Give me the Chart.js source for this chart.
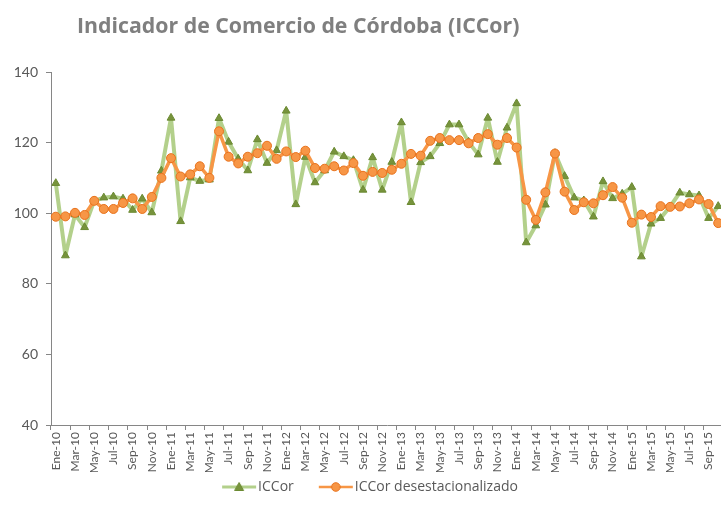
<!DOCTYPE html>
<html>
<head>
<meta charset="utf-8">
<script src="https://cdn.jsdelivr.net/npm/chart.js@4"></script>
<style>
  html, body { margin: 0; padding: 0; background: #ffffff; overflow: hidden; }
  #wrap { position: relative; width: 721px; height: 520px; overflow: hidden; }
  #box { position: absolute; left: 0; top: 0; width: 742px; height: 520px; }
  #title { position: absolute; left: 77px; top: 10px; font-family: "Open Sans", Lato, sans-serif; font-weight: bold; font-size: 21.3px; line-height: 1.362; color: #7f7f7f; white-space: nowrap; }
</style>
</head>
<body>
<div id="wrap">
  <div id="box"><canvas id="c" width="742" height="520"></canvas></div>
  <div id="title">Indicador de Comercio de Córdoba (ICCor)</div>
</div>
<script>
const categories = [
  "Ene-10","Feb-10","Mar-10","Abr-10","May-10","Jun-10","Jul-10","Ago-10","Sep-10","Oct-10","Nov-10","Dic-10",
  "Ene-11","Feb-11","Mar-11","Abr-11","May-11","Jun-11","Jul-11","Ago-11","Sep-11","Oct-11","Nov-11","Dic-11",
  "Ene-12","Feb-12","Mar-12","Abr-12","May-12","Jun-12","Jul-12","Ago-12","Sep-12","Oct-12","Nov-12","Dic-12",
  "Ene-13","Feb-13","Mar-13","Abr-13","May-13","Jun-13","Jul-13","Ago-13","Sep-13","Oct-13","Nov-13","Dic-13",
  "Ene-14","Feb-14","Mar-14","Abr-14","May-14","Jun-14","Jul-14","Ago-14","Sep-14","Oct-14","Nov-14","Dic-14",
  "Ene-15","Feb-15","Mar-15","Abr-15","May-15","Jun-15","Jul-15","Ago-15","Sep-15","Oct-15"
];
const iccor = [108.5,88.0,99.6,96.0,103.5,104.4,104.7,104.1,100.9,104.1,
  100.2,112.0,127.0,97.7,110.1,109.1,109.5,126.9,120.2,115.4,
  112.1,120.9,114.2,117.8,129.0,102.5,115.9,108.7,112.1,117.4,
  116.1,115.0,106.6,115.8,106.6,114.5,125.7,103.1,114.4,116.1,
  119.8,125.1,125.1,120.2,116.6,127.0,114.5,124.2,131.1,91.7,
  96.5,102.4,117.0,110.5,104.4,103.6,99.0,109.0,104.2,105.5,
  107.4,87.7,97.0,98.6,101.9,105.8,105.3,105.0,98.6,102.0];
const iccorDesest = [99.0,99.1,100.1,99.5,103.5,101.2,101.2,102.9,104.2,101.2,
  104.6,110.0,115.6,110.4,111.0,113.3,110.0,123.2,116.0,114.1,
  116.0,117.0,119.1,115.4,117.5,115.9,117.7,112.8,112.6,113.3,
  112.1,114.2,110.6,111.7,111.4,112.3,114.0,116.8,116.3,120.5,
  121.3,120.7,120.7,119.8,121.3,122.4,119.4,121.3,118.6,103.8,
  98.1,105.9,116.9,106.1,100.9,103.1,102.8,105.1,107.4,104.4,
  97.3,99.6,98.9,102.0,101.8,101.9,102.8,103.9,102.6,97.2];
const seriesNames = ["ICCor", "ICCor desestacionalizado"];
const yTicks = { min: 40, max: 140, step: 20 };

const GREEN_LINE = 'rgba(160,196,110,0.8)';
const GREEN_PT = '#77933c';
const GREEN_PT_BORDER = '#6b8a32';
const ORANGE = '#f79646';
const ORANGE_BORDER = '#e8721c';

// legend icon: blank left part acts as spacing, line + marker in the right 35px
const LEG_BOX = 46;
const ICON_W = LEG_BOX + 12, ICON_H = 12;
function legendIcon(kind) {
  const cv = document.createElement('canvas');
  cv.width = ICON_W; cv.height = ICON_H;
  const g = cv.getContext('2d');
  const x0 = ICON_W - 35, x1 = ICON_W - 1, xm = (x0 + x1) / 2;
  g.lineWidth = kind === 'tri' ? 3 : 2.5;
  g.strokeStyle = kind === 'tri' ? GREEN_LINE : ORANGE;
  g.beginPath(); g.moveTo(x0, 6); g.lineTo(x1, 6); g.stroke();
  if (kind === 'tri') {
    g.fillStyle = GREEN_PT; g.strokeStyle = GREEN_PT_BORDER; g.lineWidth = 1;
    g.beginPath(); g.moveTo(xm, 1.5); g.lineTo(xm + 4.5, 9.5); g.lineTo(xm - 4.5, 9.5); g.closePath(); g.fill(); g.stroke();
  } else {
    g.fillStyle = ORANGE; g.strokeStyle = ORANGE_BORDER; g.lineWidth = 1;
    g.beginPath(); g.arc(xm, 6, 4.3, 0, Math.PI * 2); g.fill(); g.stroke();
  }
  return cv;
}
const icons = [legendIcon('tri'), legendIcon('circ')];

new Chart(document.getElementById('c'), {
  type: 'line',
  data: {
    labels: categories,
    datasets: [
      {
        label: seriesNames[0], data: iccor, order: 1,
        borderColor: GREEN_LINE, borderWidth: 4, tension: 0, borderJoinStyle: 'round', borderCapStyle: 'round',
        pointStyle: 'triangle', pointRadius: 4.5, pointBackgroundColor: GREEN_PT,
        pointBorderColor: GREEN_PT_BORDER, pointBorderWidth: 1
      },
      {
        label: seriesNames[1], data: iccorDesest, order: 0,
        borderColor: ORANGE, borderWidth: 3.5, tension: 0, borderJoinStyle: 'round', borderCapStyle: 'round',
        pointStyle: 'circle', pointRadius: 4.5, pointBackgroundColor: ORANGE,
        pointBorderColor: ORANGE_BORDER, pointBorderWidth: 1
      }
    ]
  },
  options: {
    responsive: false,
    animation: false,
    events: [],
    layout: { padding: { left: 0, right: 19, top: 72, bottom: 16 } },
    plugins: {
      title: { display: false },
      tooltip: { enabled: false },
      legend: {
        position: 'bottom',
        labels: {
          usePointStyle: true,
          pointStyleWidth: LEG_BOX,
          padding: 8,
          color: '#595959',
          font: { family: 'Open Sans', size: 14 },
          generateLabels: (chart) => chart.data.datasets.map((ds, i) => ({
            text: ds.label, pointStyle: icons[i], datasetIndex: i,
            fillStyle: 'transparent', strokeStyle: 'transparent', lineWidth: 0, fontColor: '#595959'
          }))
        }
      }
    },
    scales: {
      x: {
        offset: true,
        afterFit: (s) => { s.height = 47; },
        grid: {
          offset: true, drawOnChartArea: false, drawTicks: true, tickLength: 5,
          color: (ctx) => (ctx.index % 2 === 0 ? '#868686' : 'rgba(0,0,0,0)')
        },
        border: { display: true, color: '#868686', width: 1 },
        ticks: {
          autoSkip: false, maxRotation: 90, minRotation: 90, padding: 2,
          color: '#595959', font: { family: 'Lato', size: 12 },
          callback: function (v, i) { return i % 2 === 0 ? this.getLabelForValue(v) : ''; }
        }
      },
      y: {
        min: yTicks.min, max: yTicks.max,
        afterFit: (s) => { s.width = 51; },
        grid: { drawOnChartArea: false, drawTicks: true, tickLength: 5, color: '#868686' },
        border: { display: true, color: '#868686', width: 1 },
        ticks: {
          stepSize: yTicks.step, padding: 8,
          color: '#595959', font: { family: 'Lato', size: 14 }
        }
      }
    }
  }
});
</script>
</body>
</html>
